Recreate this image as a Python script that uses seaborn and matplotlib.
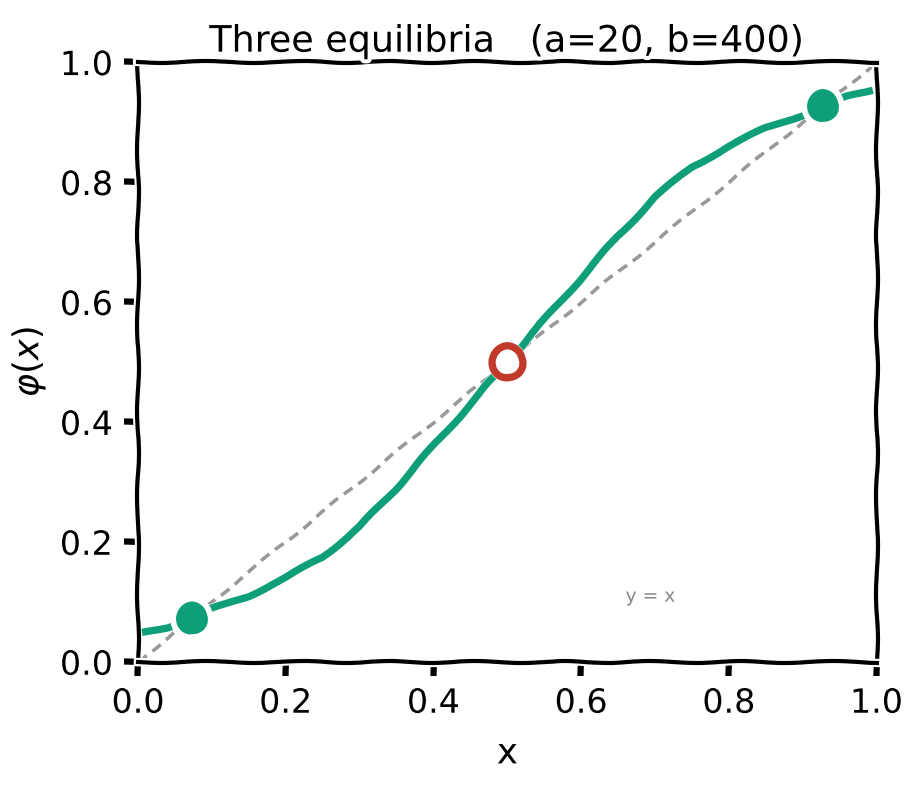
import numpy as np
import pandas as pd
import matplotlib
matplotlib.use("Agg")
import matplotlib.pyplot as plt
import seaborn as sns

# curve phi(x)
x_vals = [0.01, 0.04, 0.0727, 0.10, 0.15, 0.20, 0.25, 0.30, 0.35, 0.40, 0.45, 0.50,
          0.55, 0.60, 0.65, 0.70, 0.75, 0.80, 0.85, 0.90, 0.9273, 0.96, 0.99]
phi_vals = [0.050, 0.058, 0.0727, 0.088, 0.110, 0.140, 0.175, 0.225, 0.290, 0.360, 0.430, 0.500,
            0.570, 0.640, 0.710, 0.775, 0.825, 0.860, 0.890, 0.912, 0.9273, 0.942, 0.952]

# equilibria
stable_x = [0.0727, 0.9273]
stable_y = [0.0727, 0.9273]
unstable_x = [0.5]
unstable_y = [0.5]

diag = [0.0, 1.0]
ticks = [0.0, 0.2, 0.4, 0.6, 0.8, 1.0]

green = "#0f9f78"
red = "#c0392b"

curve = pd.DataFrame({"x": x_vals, "phi": phi_vals})

with plt.xkcd():
    plt.rcParams["font.family"] = ["DejaVu Sans"]
    plt.rcParams["axes.linewidth"] = 2
    fig = plt.figure(figsize=(6.1, 5.253), dpi=150)
    ax = fig.add_axes([0.151, 0.159, 0.807, 0.761])

    sns.lineplot(x=diag, y=diag, ax=ax, color="#999999", linestyle=(0, (3, 2)), linewidth=1.7, zorder=2)
    sns.lineplot(data=curve, x="x", y="phi", ax=ax, color=green, linewidth=3.5, zorder=3)
    ax.plot(stable_x, stable_y, "o", color=green, markersize=17, markeredgecolor="white",
            markeredgewidth=1.5, zorder=5)
    ax.plot(unstable_x, unstable_y, "o", markerfacecolor="white", markeredgecolor=red,
            markersize=15, markeredgewidth=3.5, zorder=5)

    ax.text(0.66, 0.1, "y = x", color="#888888", fontsize=9, family="DejaVu Sans")

    ax.set_xlim(0, 1)
    ax.set_ylim(0, 1)
    ax.set_xticks(ticks)
    ax.set_yticks(ticks)
    ax.set_xticklabels([f"{t:.1f}" for t in ticks], fontsize=16)
    ax.set_yticklabels([f"{t:.1f}" for t in ticks], fontsize=16)
    ax.tick_params(direction="out", length=7, width=3, pad=5)
    ax.set_xlabel("x", fontsize=17, labelpad=8)
    ax.set_ylabel(r"$\varphi(x)$", fontsize=17, labelpad=6)
    ax.set_title("Three equilibria   (a=20, b=400)", fontsize=17.5, pad=5)

    fig.savefig("out.png", dpi=150)
